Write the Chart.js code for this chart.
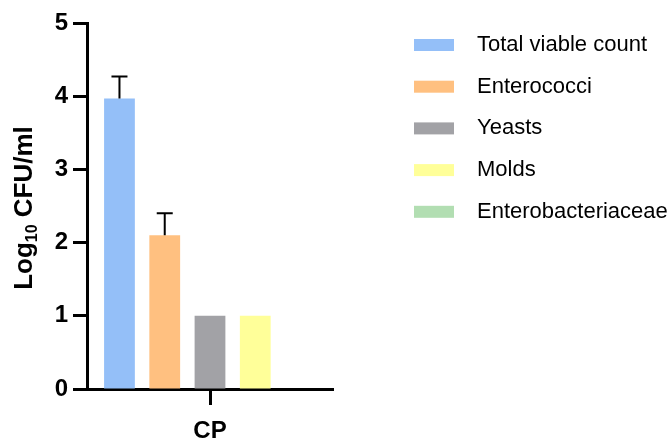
<!DOCTYPE html>
<html>
<head>
<meta charset="utf-8">
<script src="https://cdn.jsdelivr.net/npm/chart.js@4/dist/chart.umd.min.js"></script>
<style>
  html, body { margin: 0; padding: 0; background: #fff; }
  #wrap { width: 672px; height: 442px; }
</style>
</head>
<body>
<div id="wrap"><canvas id="c" width="672" height="442"></canvas></div>
<script>
const categories = ['CP'];
const seriesNames = ['Total viable count', 'Enterococci', 'Yeasts', 'Molds', 'Enterobacteriaceae'];
const totalViable = [3.97];
const enterococci = [2.10];
const yeasts = [1.00];
const molds = [1.00];
const enterobacteriaceae = [0];
const totalViableErr = [0.30];
const enterococciErr = [0.30];
const yeastsErr = [0];
const moldsErr = [0];
const enterobacteriaceaeErr = [0];
const yTicks = [0, 1, 2, 3, 4, 5];
const yTitleMain = 'Log';
const yTitleSub = '10';
const yTitleRest = ' CFU/ml';

const colors = ['#94BFF8', '#FFC080', '#A2A2A6', '#FFFF99', '#B2DEB2'];
const values = [totalViable, enterococci, yeasts, molds, enterobacteriaceae];
const errors = [totalViableErr, enterococciErr, yeastsErr, moldsErr, enterobacteriaceaeErr];

const FONT = '"Liberation Sans", Arial, sans-serif';

const errorBarPlugin = {
  id: 'errorBars',
  afterDatasetsDraw(chart) {
    const ctx = chart.ctx;
    const y = chart.scales.y;
    ctx.save();
    ctx.strokeStyle = '#000';
    ctx.lineWidth = 2;
    chart.data.datasets.forEach((ds, i) => {
      const meta = chart.getDatasetMeta(i);
      meta.data.forEach((bar, j) => {
        const e = ds.errors[j];
        if (!e) return;
        const top = y.getPixelForValue(ds.data[j] + e);
        const base = y.getPixelForValue(ds.data[j]);
        ctx.beginPath();
        ctx.moveTo(bar.x, base);
        ctx.lineTo(bar.x, top);
        ctx.moveTo(bar.x - 8, top);
        ctx.lineTo(bar.x + 8, top);
        ctx.stroke();
      });
    });
    ctx.restore();
  }
};

const titleLegendPlugin = {
  id: 'titleLegend',
  afterDraw(chart) {
    const ctx = chart.ctx;
    ctx.save();
    // Y axis title with subscript
    ctx.translate(32, 208);
    ctx.rotate(-Math.PI / 2);
    ctx.fillStyle = '#000';
    ctx.textBaseline = 'alphabetic';
    const big = 'bold 26px ' + FONT;
    const small = 'bold 16px ' + FONT;
    ctx.font = big;
    const w1 = ctx.measureText(yTitleMain).width;
    const w3 = ctx.measureText(yTitleRest).width;
    ctx.font = small;
    const w2 = ctx.measureText(yTitleSub).width;
    let x = -(w1 + w2 + w3) / 2;
    ctx.font = big;
    ctx.fillText(yTitleMain, x, 0);
    x += w1;
    ctx.font = small;
    ctx.fillText(yTitleSub, x, 5);
    x += w2;
    ctx.font = big;
    ctx.fillText(yTitleRest, x, 0);
    ctx.restore();

    // Legend
    ctx.save();
    ctx.font = '22px ' + FONT;
    ctx.textBaseline = 'middle';
    chart.data.datasets.forEach((ds, i) => {
      const cy = 45 + i * 41.7;
      ctx.fillStyle = ds.backgroundColor;
      ctx.fillRect(414, cy - 6, 40, 12);
      ctx.fillStyle = '#000';
      ctx.fillText(ds.label, 477, cy);
    });
    ctx.restore();
  }
};

new Chart(document.getElementById('c'), {
  type: 'bar',
  data: {
    labels: categories,
    datasets: seriesNames.map((name, i) => ({
      label: name,
      data: values[i],
      errors: errors[i],
      backgroundColor: colors[i],
      borderWidth: 0,
      categoryPercentage: 0.92,
      barPercentage: 0.68
    }))
  },
  options: {
    responsive: false,
    animation: false,
    devicePixelRatio: 1,
    layout: { padding: { top: 23, right: 339, left: 0, bottom: 0 } },
    plugins: {
      legend: { display: false },
      tooltip: { enabled: false },
      title: { display: false }
    },
    scales: {
      x: {
        afterFit(s) { s.height = 53; },
        grid: {
          display: true,
          drawOnChartArea: false,
          drawTicks: true,
          offset: false,
          tickLength: 16,
          tickWidth: 3,
          tickColor: '#000'
        },
        border: { display: true, color: '#000', width: 3 },
        ticks: {
          color: '#000',
          padding: 12,
          font: { family: FONT, size: 24, weight: 'bold' }
        }
      },
      y: {
        min: 0,
        max: 5,
        afterFit(s) { s.width = 87; },
        afterBuildTicks(s) { s.ticks = yTicks.map(v => ({ value: v })); },
        grid: {
          display: true,
          drawOnChartArea: false,
          drawTicks: true,
          tickLength: 14,
          tickWidth: 3,
          tickColor: '#000'
        },
        border: { display: true, color: '#000', width: 3 },
        ticks: {
          color: '#000',
          padding: 5,
          font: { family: FONT, size: 24, weight: 'bold' }
        }
      }
    }
  },
  plugins: [errorBarPlugin, titleLegendPlugin]
});
</script>
</body>
</html>
